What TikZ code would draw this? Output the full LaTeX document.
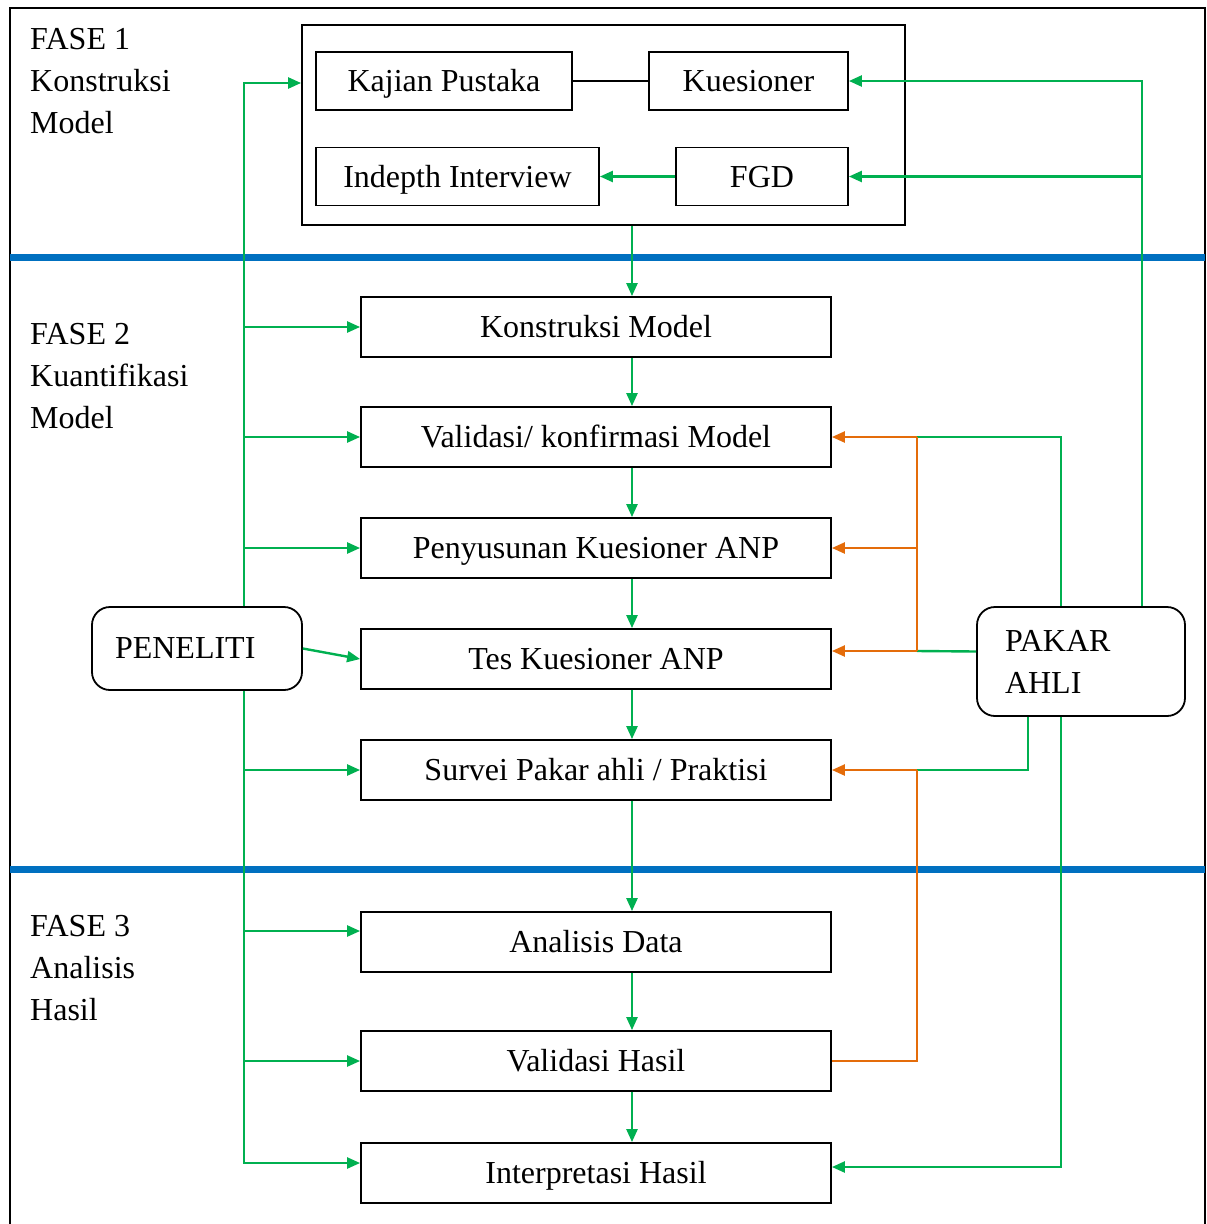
\documentclass[tikz,border=0pt]{standalone}
\usepackage{fontspec}
\setmainfont{Liberation Serif}
\usepackage{xcolor}
\usepackage{tikz}
\usetikzlibrary{arrows.meta}
\definecolor{flowgreen}{HTML}{00B050}
\definecolor{floworange}{HTML}{E46C0A}
\definecolor{phaseblue}{HTML}{0070C0}

\begin{document}
\begin{tikzpicture}[x=1pt,y=1pt,yscale=-1,xscale=1,
  txt/.style={font=\fontsize{32}{42}\selectfont},
  procbox/.style={draw,line width=1.8pt,minimum width=470,minimum height=60,inner sep=0pt,text height=24pt,text depth=3pt,txt},
  smallbox/.style={draw,line width=1.8pt,minimum height=58,inner sep=0pt,text height=24pt,text depth=3pt,txt},
  actor/.style={draw,line width=1.8pt,rounded corners=18pt,align=left,inner ysep=0pt,txt},
  gline/.style={draw=flowgreen,line width=2.4pt},
  oline/.style={draw=floworange,line width=2.4pt},
  tip/.style={-{Triangle[length=13pt,width=11pt]}}]
\useasboundingbox (0,0) rectangle (1207,1224);

\draw [line width=1.5pt] (10,1224) -- (10,8) -- (1205,8) -- (1205,1224) ;
\draw [phaseblue,line width=7pt] (10,257) -- (1205,257) ;
\draw [phaseblue,line width=7pt] (10,869) -- (1205,869) ;

\node (fase1) at (30,28) [anchor=north west,inner sep=0pt,align=left,txt] {FASE 1\\Konstruksi\\Model};
\node (fase2) at (30,323) [anchor=north west,inner sep=0pt,align=left,txt] {FASE 2\\Kuantifikasi\\Model};
\node (fase3) at (30,915) [anchor=north west,inner sep=0pt,align=left,txt] {FASE 3\\Analisis\\Hasil};

\node (modelbox) at (603.5,125) [draw,line width=1.8pt,minimum width=603,minimum height=200] {};
\node (kajian) at (444,81) [smallbox,minimum width=256] {Kajian Pustaka};
\node (kuesioner) at (748.5,81) [smallbox,minimum width=199] {Kuesioner};
\node (indepth) at (457.5,176.5) [smallbox,minimum width=283] {Indepth Interview};
\node (fgd) at (762,176.5) [smallbox,minimum width=172] {FGD};

\node (konstruksi) at (596,327) [procbox] {Konstruksi Model};
\node (validasi) at (596,437) [procbox] {Validasi/ konfirmasi Model};
\node (penyusunan) at (596,548) [procbox] {Penyusunan Kuesioner ANP};
\node (tes) at (596,659) [procbox] {Tes Kuesioner ANP};
\node (survei) at (596,770) [procbox] {Survei Pakar ahli / Praktisi};
\node (analisis) at (596,942) [procbox] {Analisis Data};
\node (validasihasil) at (596,1061) [procbox] {Validasi Hasil};
\node (interpretasi) at (596,1173) [procbox] {Interpretasi Hasil};

\node (peneliti) at (197,648.5) [actor,text width=164,inner xsep=23pt,minimum height=83] {PENELITI};
\node (pakar) at (1081,661.5) [actor,text width=152,inner xsep=28pt,minimum height=109] {PAKAR\\AHLI};

\coordinate (flow) at (632,0);
\coordinate (trunk) at (244,0);
\coordinate (fb) at (917,0);
\coordinate (xpA) at ([xshift=61]pakar.north);
\coordinate (xpB) at ([xshift=-20]pakar.north);
\coordinate (xpC) at ([xshift=-53]pakar.south);
\coordinate (xpD) at ([xshift=-20]pakar.south);
\coordinate (tesin) at ([yshift=-8]tes.east);

\draw [line width=1.5pt] (kajian) -- (kuesioner) ;
\draw [gline,tip] (fgd) -- (indepth) ;

\draw [gline,tip] (modelbox.south -| flow) -- (konstruksi.north -| flow) ;
\draw [gline,tip] (konstruksi.south -| flow) -- (validasi.north -| flow) ;
\draw [gline,tip] (validasi.south -| flow) -- (penyusunan.north -| flow) ;
\draw [gline,tip] (penyusunan.south -| flow) -- (tes.north -| flow) ;
\draw [gline,tip] (tes.south -| flow) -- (survei.north -| flow) ;
\draw [gline,tip] (survei.south -| flow) -- (analisis.north -| flow) ;
\draw [gline,tip] (analisis.south -| flow) -- (validasihasil.north -| flow) ;
\draw [gline,tip] (validasihasil.south -| flow) -- (interpretasi.north -| flow) ;

\draw [gline,tip] (peneliti.north -| trunk) |- ([yshift=-42]modelbox.west) ;
\draw [gline,tip] (trunk |- konstruksi.west) -- (konstruksi.west) ;
\draw [gline,tip] (trunk |- validasi.west) -- (validasi.west) ;
\draw [gline,tip] (trunk |- penyusunan.west) -- (penyusunan.west) ;
\draw [gline,tip] (peneliti.east) -- (tes.west) ;
\draw [gline,tip] (peneliti.south -| trunk) |- ([yshift=-10]interpretasi.west) ;
\draw [gline,tip] (trunk |- survei.west) -- (survei.west) ;
\draw [gline,tip] ([yshift=-11]analisis.west -| trunk) -- ([yshift=-11]analisis.west) ;
\draw [gline,tip] (trunk |- validasihasil.west) -- (validasihasil.west) ;

\draw [gline,tip] (xpA) |- (kuesioner.east) ;
\draw [gline,tip] (xpA |- fgd.east) -- (fgd.east) ;
\draw [gline] (xpB) |- (fb |- validasi.east) ;
\draw [gline] ([yshift=-10]pakar.west) -- (fb |- tesin) ;
\draw [gline] (xpC) |- (fb |- survei.east) ;
\draw [gline,tip] (xpD) |- ([yshift=-6]interpretasi.east) ;

\draw [oline] (fb |- validasi.east) -- (fb |- tesin) ;
\draw [oline,tip] (fb |- validasi.east) -- (validasi.east) ;
\draw [oline,tip] (fb |- penyusunan.east) -- (penyusunan.east) ;
\draw [oline,tip] (fb |- tesin) -- (tesin) ;
\draw [oline] (validasihasil.east) -| (fb |- survei.east) ;
\draw [oline,tip] (fb |- survei.east) -- (survei.east) ;

\end{tikzpicture}
\end{document}
